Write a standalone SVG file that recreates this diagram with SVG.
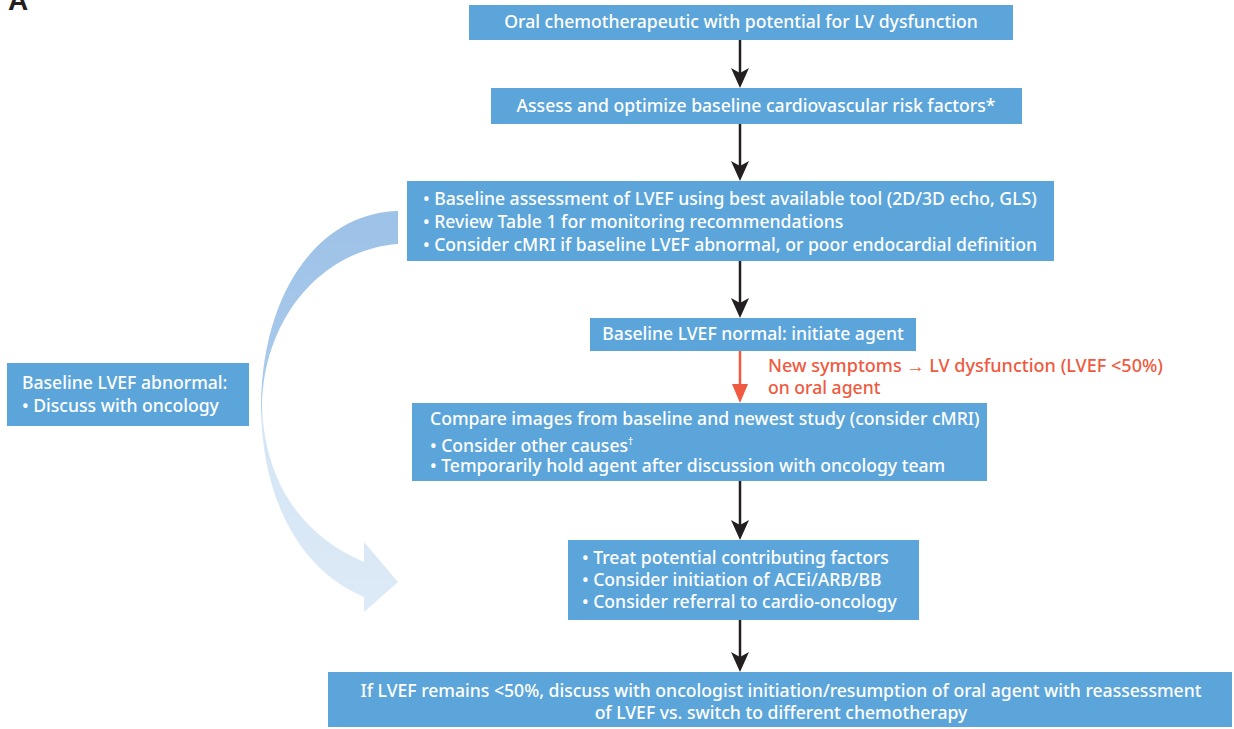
<svg xmlns="http://www.w3.org/2000/svg" width="1234" height="729" viewBox="0 0 1234 729">
<style>
.box{fill:#5ba5da}
.t{font-family:"Noto Sans","Open Sans",sans-serif;font-size:17.6px;font-weight:500;fill:#fff}
.c{text-anchor:middle}
.red{font-family:"Noto Sans","Open Sans",sans-serif;font-size:17.6px;font-weight:500;fill:#ef5a40}
.blk{stroke:#231f20;stroke-width:2.5;fill:none}
.rl{stroke:#ef5a40;stroke-width:2.5;fill:none}
</style>
<defs>
<marker id="ab" viewBox="0 0 20 18" refX="5" refY="9" markerWidth="20" markerHeight="18" markerUnits="userSpaceOnUse" orient="auto">
<path d="M0,0 L20,9 L0,18 L5,9 Z" fill="#231f20"/>
</marker>
<linearGradient id="cg" x1="0" y1="211" x2="0" y2="612" gradientUnits="userSpaceOnUse">
<stop offset="0" stop-color="#9dc2e7"/>
<stop offset="0.48" stop-color="#aacbeb"/>
<stop offset="0.52" stop-color="#d4e5f5"/>
<stop offset="1" stop-color="#ddeaf7"/>
</linearGradient>
</defs>
<text x="8" y="10" font-family="Liberation Sans,Arial,sans-serif" font-weight="bold" font-size="28" fill="#231f20">A</text>
<path id="curve" d="M398,211 C320,213 262,290 261,407 C262,500 300,570 364,597 L364,612 L398,582 L364,542 L364,562 C300,535 265,480 262,407 C263,320 320,250 398,244 Z" fill="url(#cg)"/>
<g id="connectors">
<line class="blk" x1="740" y1="40" x2="740" y2="73" marker-end="url(#ab)"/>
<line class="blk" x1="740" y1="124" x2="740" y2="166" marker-end="url(#ab)"/>
<line class="blk" x1="740" y1="261" x2="740" y2="303" marker-end="url(#ab)"/>
<line class="rl" x1="740" y1="351" x2="740" y2="386"/>
<polygon points="732,384 748,384 740,403" fill="#ef5a40"/>
<line class="blk" x1="740" y1="481" x2="740" y2="525" marker-end="url(#ab)"/>
<line class="blk" x1="740" y1="620" x2="740" y2="657" marker-end="url(#ab)"/>
<text class="red" x="768" y="372" textLength="395" lengthAdjust="spacingAndGlyphs">New symptoms → LV dysfunction (LVEF &lt;50%)</text>
<text class="red" x="768" y="394">on oral agent</text>
</g>
<g id="n1"><rect class="box" x="469" y="5" width="544" height="35"/><text class="t c" x="741" y="28">Oral chemotherapeutic with potential for LV dysfunction</text></g>
<g id="n2"><rect class="box" x="491" y="88" width="531" height="36"/><text class="t c" x="756" y="112">Assess and optimize baseline cardiovascular risk factors*</text></g>
<g id="n3"><rect class="box" x="407" y="181" width="647" height="80"/>
<text class="t" x="423" y="205">• Baseline assessment of LVEF using best available tool (2D/3D echo, GLS)</text>
<text class="t" x="423" y="228">• Review Table 1 for monitoring recommendations</text>
<text class="t" x="423" y="251">• Consider cMRI if baseline LVEF abnormal, or poor endocardial definition</text></g>
<g id="n4"><rect class="box" x="590" y="318" width="326" height="33"/><text class="t c" x="753" y="340">Baseline LVEF normal: initiate agent</text></g>
<g id="n5"><rect class="box" x="7" y="363" width="242" height="63"/>
<text class="t" x="22" y="389">Baseline LVEF abnormal:</text>
<text class="t" x="22" y="412">• Discuss with oncology</text></g>
<g id="n6"><rect class="box" x="412" y="403" width="575" height="78"/>
<text class="t" x="430" y="425">Compare images from baseline and newest study (consider cMRI)</text>
<text class="t" x="430" y="452">• Consider other causes<tspan font-size="10" dy="-7">†</tspan></text>
<text class="t" x="430" y="472">• Temporarily hold agent after discussion with oncology team</text></g>
<g id="n7"><rect class="box" x="568" y="540" width="351" height="80"/>
<text class="t" x="582" y="564">• Treat potential contributing factors</text>
<text class="t" x="582" y="586">• Consider initiation of ACEi/ARB/BB</text>
<text class="t" x="582" y="608">• Consider referral to cardio-oncology</text></g>
<g id="n8"><rect class="box" x="328" y="672" width="904" height="55"/>
<text class="t c" x="781" y="697">If LVEF remains &lt;50%, discuss with oncologist initiation/resumption of oral agent with reassessment</text>
<text class="t c" x="781" y="719">of LVEF vs. switch to different chemotherapy</text></g>
</svg>
